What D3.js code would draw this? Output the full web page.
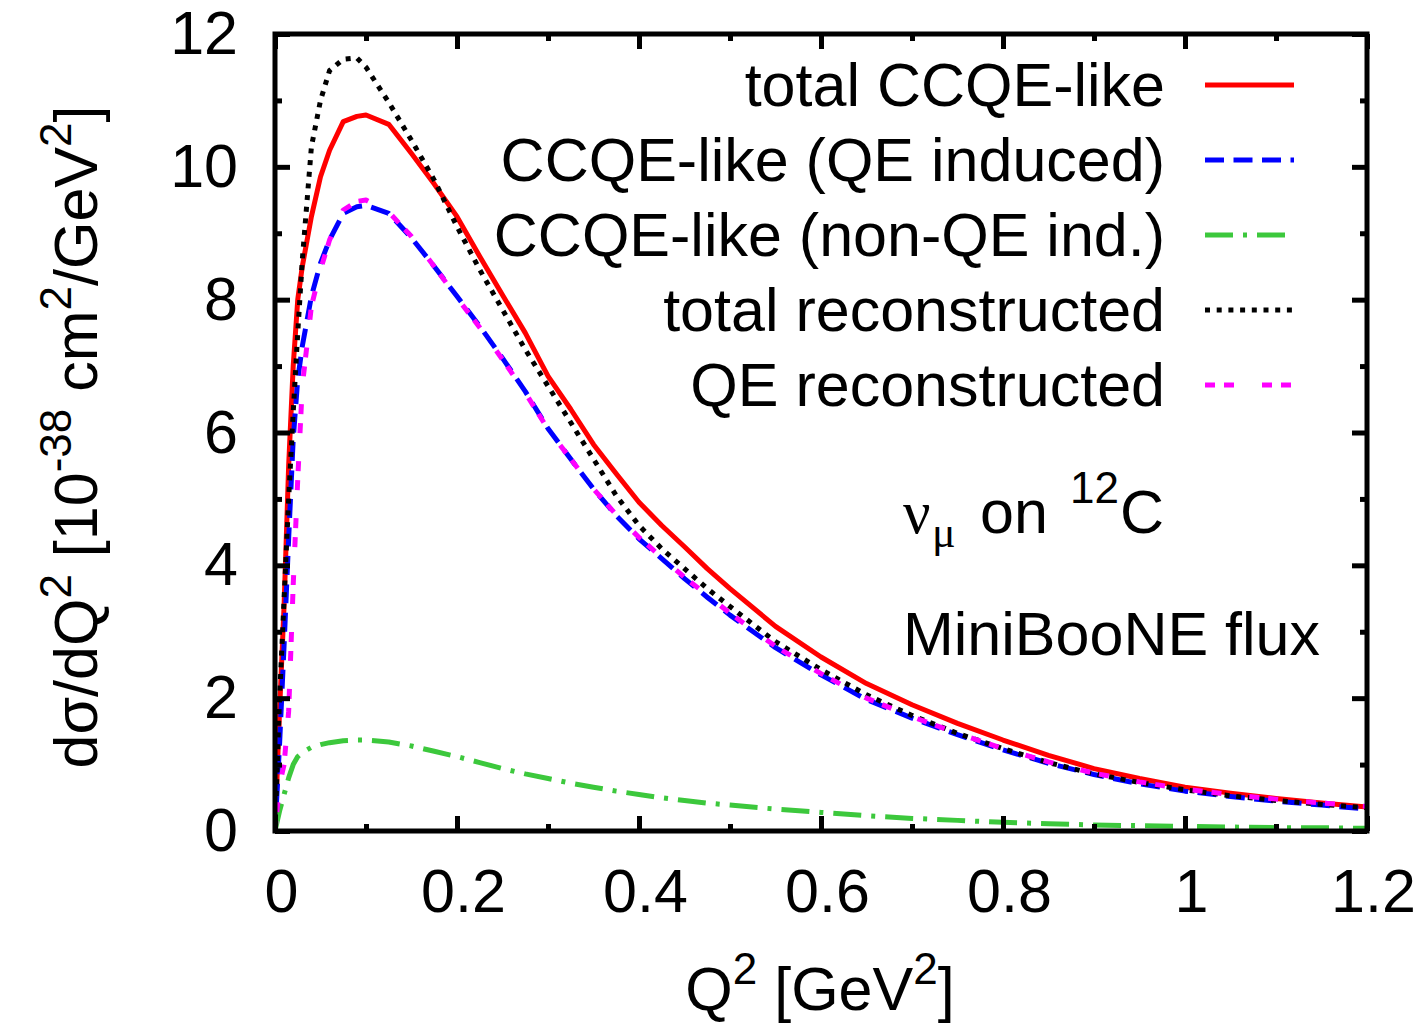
<!DOCTYPE html>
<html>
<head>
<meta charset="utf-8">
<script src="https://cdn.jsdelivr.net/npm/d3@7"></script>
<style>
  body { margin: 0; background: #fff; }
  text { font-family: "Liberation Sans", Arial, sans-serif; fill: #000; }
</style>
</head>
<body>
<div id="chart"></div>
<script>
// Q^2 grid [GeV^2]
const q2 = [0, 0.005, 0.01, 0.015, 0.02, 0.025, 0.03, 0.04, 0.05, 0.06, 0.075, 0.09, 0.1,
  0.125, 0.15, 0.175, 0.2, 0.225, 0.25, 0.275, 0.3, 0.325, 0.35, 0.375, 0.4, 0.425, 0.45,
  0.475, 0.5, 0.55, 0.6, 0.65, 0.7, 0.75, 0.8, 0.85, 0.9, 0.95, 1.0, 1.05, 1.1, 1.15, 1.2];

// dsigma/dQ^2 [1e-38 cm^2/GeV^2]
const totalCCQE = [0, 1.8, 3.4, 5.5, 7.0, 8.0, 8.5, 9.25, 9.85, 10.25, 10.68, 10.76, 10.78,
  10.64, 10.2, 9.74, 9.25, 8.65, 8.07, 7.5, 6.85, 6.35, 5.82, 5.38, 4.95, 4.6, 4.28,
  3.95, 3.65, 3.08, 2.62, 2.22, 1.9, 1.62, 1.37, 1.14, 0.94, 0.79, 0.66, 0.57, 0.49, 0.42, 0.36];
const qeInduced = [0, 1.3, 2.8, 4.4, 5.9, 6.8, 7.3, 8.05, 8.55, 8.9, 9.3, 9.4, 9.42,
  9.3, 8.93, 8.5, 8.05, 7.6, 7.12, 6.62, 6.06, 5.6, 5.15, 4.75, 4.4, 4.1, 3.8,
  3.52, 3.25, 2.76, 2.35, 1.98, 1.7, 1.45, 1.22, 1.02, 0.85, 0.71, 0.6, 0.52, 0.45, 0.39, 0.33];
const nonQeInduced = [0, 0.3, 0.55, 0.8, 1.0, 1.12, 1.18, 1.26, 1.3, 1.33, 1.36, 1.37, 1.37,
  1.34, 1.28, 1.2, 1.12, 1.03, 0.94, 0.86, 0.79, 0.72, 0.66, 0.6, 0.55, 0.5, 0.46,
  0.42, 0.39, 0.33, 0.28, 0.23, 0.19, 0.16, 0.13, 0.11, 0.09, 0.08, 0.07, 0.06, 0.05, 0.05, 0.04];
const totalReco = [0, 2.0, 3.5, 5.0, 6.3, 7.5, 8.6, 10.3, 11.0, 11.45, 11.62, 11.64, 11.5,
  10.97, 10.4, 9.8, 9.1, 8.45, 7.85, 7.25, 6.7, 6.15, 5.6, 5.05, 4.6, 4.25, 3.95,
  3.65, 3.38, 2.85, 2.43, 2.05, 1.74, 1.47, 1.24, 1.03, 0.86, 0.73, 0.62, 0.53, 0.46, 0.4, 0.35];
const qeReco = [0, 0.7, 1.0, 1.8, 3.7, 5.3, 6.7, 7.9, 8.45, 8.9, 9.35, 9.48, 9.5,
  9.32, 8.95, 8.5, 8.03, 7.58, 7.1, 6.6, 6.05, 5.6, 5.15, 4.76, 4.42, 4.12, 3.82,
  3.55, 3.28, 2.78, 2.37, 2.0, 1.72, 1.47, 1.24, 1.04, 0.87, 0.74, 0.63, 0.55, 0.48, 0.42, 0.37];

const seriesNames = ["total CCQE-like", "CCQE-like (QE induced)", "CCQE-like (non-QE ind.)",
  "total reconstructed", "QE reconstructed"];
const seriesValues = [totalCCQE, qeInduced, nonQeInduced, totalReco, qeReco];
const seriesColors = ["#ff0000", "#0000ff", "#3cc83c", "#000000", "#ff00ff"];
const seriesDash = [null, "19,9.5", "28,10,4,10", "5,6.7", "10,9,10,28"];

const xMajor = [0, 0.2, 0.4, 0.6, 0.8, 1.0, 1.2];
const xMinor = [0.1, 0.3, 0.5, 0.7, 0.9, 1.1];
const yMajor = [0, 2, 4, 6, 8, 10, 12];
const yMinor = [1, 3, 5, 7, 9, 11];

const width = 1425, height = 1023;
const marginLeft = 275, marginRight = 58, marginTop = 34, marginBottom = 192;
const fontSize = 61, supSize = 44;

const x = d3.scaleLinear([0, 1.2], [marginLeft, width - marginRight]);
const y = d3.scaleLinear([0, 12], [height - marginBottom, marginTop]);

const svg = d3.select("#chart").append("svg")
  .attr("width", width)
  .attr("height", height)
  .attr("viewBox", [0, 0, width, height]);

svg.append("rect").attr("width", width).attr("height", height).attr("fill", "#fff");

svg.append("clipPath").attr("id", "clip")
  .append("rect")
  .attr("x", x(0)).attr("y", y(12))
  .attr("width", x(1.2) - x(0)).attr("height", y(0) - y(12));

// curves, in gnuplot plot order
const line = d3.line()
  .x((d, i) => x(q2[i]))
  .y(d => y(d));

svg.append("g")
  .attr("clip-path", "url(#clip)")
  .selectAll("path")
  .data(seriesValues)
  .join("path")
  .attr("fill", "none")
  .attr("stroke", (d, i) => seriesColors[i])
  .attr("stroke-width", 5)
  .attr("stroke-linejoin", "round")
  .attr("stroke-dasharray", (d, i) => seriesDash[i])
  .attr("d", line);

// ticks on all four sides, pointing inward
function tickAxis(axis, scale, values, size, transform) {
  svg.append("g")
    .attr("transform", transform)
    .call(axis(scale).tickValues(values).tickSize(size).tickFormat(""))
    .call(g => g.select(".domain").remove())
    .call(g => g.selectAll(".tick line").attr("stroke", "#000").attr("stroke-width", 5));
}
const xb = `translate(0,${y(0)})`, xt = `translate(0,${y(12)})`;
const yl = `translate(${x(0)},0)`, yr = `translate(${x(1.2)},0)`;
tickAxis(d3.axisBottom, x, xMajor, -15, xb);
tickAxis(d3.axisBottom, x, xMinor, -7, xb);
tickAxis(d3.axisTop, x, xMajor, -15, xt);
tickAxis(d3.axisTop, x, xMinor, -7, xt);
tickAxis(d3.axisLeft, y, yMajor, -15, yl);
tickAxis(d3.axisLeft, y, yMinor, -7, yl);
tickAxis(d3.axisRight, y, yMajor, -15, yr);
tickAxis(d3.axisRight, y, yMinor, -7, yr);

// frame
svg.append("rect")
  .attr("x", x(0)).attr("y", y(12))
  .attr("width", x(1.2) - x(0)).attr("height", y(0) - y(12))
  .attr("fill", "none")
  .attr("stroke", "#000")
  .attr("stroke-width", 5);

// tick labels
svg.append("g")
  .attr("transform", `translate(6,${y(0)})`)
  .call(d3.axisBottom(x).tickValues(xMajor).tickSize(0).tickPadding(38).tickFormat(d3.format("~g")))
  .call(g => g.select(".domain").remove())
  .call(g => g.selectAll("text").attr("font-size", fontSize).attr("font-family", null).attr("fill", "#000"));

svg.append("g")
  .attr("transform", `translate(${x(0)},0)`)
  .call(d3.axisLeft(y).tickValues(yMajor).tickSize(0).tickPadding(37))
  .call(g => g.select(".domain").remove())
  .call(g => g.selectAll("text").attr("font-size", fontSize).attr("font-family", null).attr("fill", "#000"));

// text with superscripts
function richText(sel, parts) {
  let shift = 0;
  parts.forEach(([s, sup]) => {
    const target = sup ? -26 : 0;
    sel.append("tspan")
      .attr("dy", target - shift)
      .attr("font-size", sup ? supSize : fontSize)
      .text(s);
    shift = target;
  });
}

// y label
svg.append("text")
  .attr("transform", "translate(97,437) rotate(-90)")
  .attr("text-anchor", "middle")
  .attr("font-size", fontSize)
  .call(richText, [["dσ/dQ"], ["2", 1], [" [10"], ["-38", 1], [" cm"], ["2", 1], ["/GeV"], ["2", 1], ["]"]]);

// x label
svg.append("text")
  .attr("x", 820).attr("y", 1010)
  .attr("text-anchor", "middle")
  .attr("font-size", fontSize)
  .call(richText, [["Q"], ["2", 1], [" [GeV"], ["2", 1], ["]"]]);

// legend
const legend = svg.append("g")
  .selectAll("g")
  .data(seriesNames)
  .join("g")
  .attr("transform", (d, i) => `translate(0,${85 + i * 75})`);

legend.append("text")
  .attr("x", 1165).attr("y", 21)
  .attr("text-anchor", "end")
  .attr("font-size", fontSize)
  .text(d => d);

legend.append("line")
  .attr("x1", 1205).attr("x2", 1294)
  .attr("stroke", (d, i) => seriesColors[i])
  .attr("stroke-width", 5)
  .attr("stroke-dasharray", (d, i) => seriesDash[i]);

// annotations
const note = svg.append("g");
note.append("text").attr("x", 903).attr("y", 533)
  .attr("font-size", fontSize).style("font-family", "'Liberation Serif', serif").text("ν");
note.append("text").attr("x", 932).attr("y", 547)
  .attr("font-size", supSize).style("font-family", "'Liberation Serif', serif").text("μ");
note.append("text").attr("x", 980).attr("y", 533)
  .attr("font-size", fontSize).text("on");
note.append("text").attr("x", 1070).attr("y", 503)
  .attr("font-size", supSize).text("12");
note.append("text").attr("x", 1120).attr("y", 533)
  .attr("font-size", fontSize).text("C");
note.append("text").attr("x", 903).attr("y", 655)
  .attr("font-size", fontSize).text("MiniBooNE flux");
</script>
</body>
</html>
